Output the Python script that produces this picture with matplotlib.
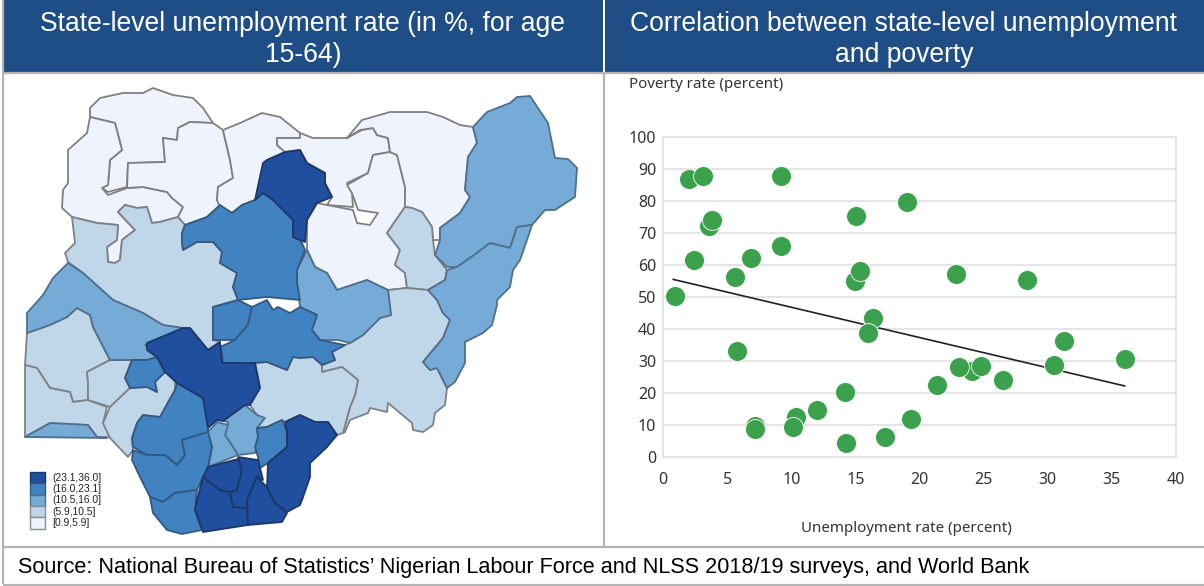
import matplotlib
matplotlib.use("Agg")
import matplotlib.pyplot as plt
from matplotlib.patches import Polygon, Rectangle

plt.rcParams['font.family'] = ['Liberation Sans', 'DejaVu Sans']

# ---- scatter data ----
unemployment = [0.9, 2.0, 3.15, 3.6, 3.8, 2.4, 5.6, 6.9, 9.2, 9.2, 15.05, 19.0, 15.0, 15.35, 16.4, 16.0, 5.8, 22.85,
                28.4, 31.3, 36.0, 30.5, 26.5, 24.1, 24.8, 23.1, 21.4, 19.3, 17.3, 14.3, 14.2, 12.0, 10.4, 10.1, 7.2, 7.2]
poverty = [50.3, 87.0, 87.7, 72.3, 74.0, 61.5, 56.3, 62.2, 87.8, 66.0, 75.3, 79.7, 55.0, 58.0, 43.4, 38.8, 33.0, 57.2,
           55.2, 36.2, 30.7, 28.8, 24.0, 27.0, 28.4, 28.0, 22.6, 12.0, 6.2, 4.5, 20.3, 14.8, 12.5, 9.4, 9.6, 8.6]
trend_x = [0.8, 36.0]
trend_y = [55.5, 22.2]
x_ticks = [0, 5, 10, 15, 20, 25, 30, 35, 40]
y_ticks = [0, 10, 20, 30, 40, 50, 60, 70, 80, 90, 100]

# ---- map data: state outlines in image coordinates, by class ----
legend_labels = ['(23.1,36.0]', '(16.0,23.1]', '(10.5,16.0]', '(5.9,10.5]', '[0.9,5.9]']
class_colors = ['#1f4f9e', '#4182c0', '#76abd8', '#c0d6e9', '#eff3fd']
class_edges = ['#1c3768', '#34587f', '#4f6f8c', '#7e8286', '#808080']

states = [
 ('Sokoto', 4, [(90,108),(100,98),(123,93),(143,93),(153,88),(173,95),(193,98),(203,108),(213,123),(190,122),(178,128),(177,140),(163,138),(165,162),(128,163),(127,187),(108,192),(102,188),(108,185),(110,160),(122,150),(115,123),(90,117)]),
 ('Kebbi', 4, [(90,117),(115,123),(122,150),(110,160),(108,185),(102,188),(108,195),(127,188),(143,187),(167,192),(172,198),(183,207),(178,217),(160,222),(152,223),(147,207),(137,208),(125,205),(118,212),(135,230),(122,240),(120,260),(115,263),(108,262),(107,247),(117,240),(118,225),(97,223),(72,217),(62,208),(63,190),(68,183),(68,150),(87,133)]),
 ('Zamfara', 4, [(128,163),(165,162),(163,138),(177,140),(178,128),(190,122),(213,123),(223,130),(230,160),(233,178),(218,187),(217,200),(220,205),(207,217),(185,225),(178,217),(183,207),(172,198),(167,192),(143,187),(127,188)]),
 ('Katsina', 4, [(223,130),(240,123),(262,113),(280,117),(300,133),(300,138),(277,138),(277,145),(285,152),(267,160),(263,193),(255,200),(242,205),(232,213),(220,207),(217,200),(218,187),(233,178),(230,160)]),
 ('Jigawa', 4, [(300,133),(313,138),(347,138),(362,130),(373,128),(377,135),(388,138),(390,152),(373,155),(368,173),(347,183),(352,193),(353,207),(327,205),(332,197),(325,183),(325,173),(307,163),(300,150),(285,152),(277,145),(277,138),(300,138)]),
 ('Bauchi', 4, [(327,205),(353,210),(357,223),(370,225),(378,213),(358,210),(352,193),(347,185),(368,173),(373,155),(390,152),(397,155),(405,187),(405,207),(387,233),(400,250),(395,265),(405,273),(407,288),(388,290),(367,280),(337,290),(327,273),(315,267),(307,250),(307,220),(317,203)]),
 ('Yobe', 4, [(347,138),(362,120),(390,112),(427,112),(443,117),(460,125),(473,127),(477,143),(468,157),(465,190),(470,197),(460,213),(440,228),(440,240),(433,240),(432,227),(422,212),(412,208),(405,207),(405,187),(397,155),(390,152),(388,138),(377,135),(373,128),(360,130)]),
 ('Gombe', 3, [(412,208),(422,212),(432,227),(433,240),(435,255),(447,270),(445,280),(428,290),(407,288),(405,273),(395,265),(400,250),(387,233),(405,207)]),
 ('Niger', 3, [(118,212),(125,205),(137,208),(147,207),(152,223),(160,222),(178,217),(185,225),(182,233),(182,243),(183,250),(197,242),(213,242),(222,252),(220,263),(237,273),(233,287),(238,300),(213,307),(213,340),(220,342),(208,350),(190,328),(183,328),(163,325),(143,313),(113,300),(83,273),(68,262),(65,253),(75,243),(72,217),(97,223),(118,225),(117,240),(107,247),(108,262),(115,263),(120,260),(122,240),(135,230)]),
 ('Oyo', 3, [(27,333),(50,325),(67,317),(77,308),(90,315),(93,327),(110,360),(87,372),(88,382),(88,400),(73,402),(70,392),(50,388),(37,368),(25,365)]),
 ('Ogun', 3, [(25,365),(37,368),(50,388),(70,392),(73,402),(88,400),(107,407),(103,423),(110,437),(97,437),(88,425),(50,423),(25,437)]),
 ('Osun', 3, [(110,360),(132,360),(125,378),(130,388),(110,407),(88,400),(88,382),(87,372)]),
 ('Ondo', 3, [(130,388),(147,387),(157,392),(155,382),(165,372),(175,377),(175,390),(160,417),(143,415),(137,423),(132,438),(133,450),(128,457),(110,438),(103,423),(110,407)]),
 ('Taraba', 3, [(388,290),(407,288),(428,290),(437,300),(443,313),(450,320),(443,338),(423,362),(430,370),(437,368),(447,388),(445,405),(435,413),(433,425),(423,432),(413,430),(412,423),(388,403),(387,412),(370,408),(368,413),(350,420),(345,432),(343,433),(350,407),(355,395),(358,380),(342,367),(322,372),(322,365),(335,360),(332,352),(345,345),(350,343),(363,335),(380,318),(391,315)]),
 ('Benue', 3, [(255,363),(267,362),(287,370),(293,357),(300,358),(313,357),(322,365),(322,372),(342,367),(358,380),(355,395),(350,407),(343,433),(337,435),(328,422),(315,422),(300,415),(285,422),(282,420),(267,427),(257,428),(257,415),(250,405),(260,388)]),
 ('Kwara', 2, [(68,263),(53,278),(43,295),(27,313),(27,333),(50,325),(67,317),(77,308),(90,315),(93,327),(110,360),(132,360),(147,360),(157,357),(145,345),(165,338),(183,328),(163,325),(143,313),(113,300),(83,273)]),
 ('Lagos', 2, [(25,437),(50,423),(88,425),(97,437),(107,438)]),
 ('Enugu', 2, [(245,405),(257,415),(265,418),(257,428),(258,437),(255,453),(238,455),(233,447),(225,435),(228,422),(223,421)]),
 ('Anambra', 2, [(217,422),(228,425),(225,435),(233,447),(238,455),(208,467),(212,447),(208,432)]),
 ('Plateau', 2, [(307,250),(315,267),(327,273),(337,290),(367,280),(388,290),(391,315),(380,318),(363,335),(350,343),(338,340),(320,340),(312,330),(317,315),(300,307),(297,283),(297,270)]),
 ('Borno', 2, [(473,127),(487,112),(510,103),(517,97),(530,96),(548,123),(555,158),(568,159),(577,168),(575,197),(555,210),(545,210),(532,225),(517,227),(510,248),(490,243),(477,253),(457,267),(447,267),(435,255),(440,240),(440,228),(460,213),(470,197),(465,190),(468,157),(477,143)]),
 ('Adamawa', 2, [(532,225),(517,227),(510,248),(490,243),(477,253),(457,267),(447,270),(445,280),(428,290),(437,300),(443,313),(450,320),(443,338),(423,362),(430,370),(437,368),(447,388),(455,382),(465,363),(465,342),(483,333),(492,325),(497,305),(497,300),(510,287),(513,270),(520,260),(527,240)]),
 ('Kaduna', 1, [(182,233),(185,225),(207,217),(220,205),(232,213),(242,205),(255,200),(263,193),(273,200),(293,220),(293,237),(300,240),(302,243),(305,250),(297,270),(297,283),(300,300),(267,297),(238,300),(233,287),(237,273),(220,263),(222,252),(213,242),(197,242),(183,250),(182,243)]),
 ('FCT', 1, [(213,307),(238,300),(252,307),(248,325),(235,340),(213,340)]),
 ('Nasarawa', 1, [(222,353),(220,347),(235,340),(248,325),(252,307),(267,300),(273,310),(278,307),(290,313),(300,307),(317,315),(312,330),(320,340),(345,345),(332,352),(335,360),(322,365),(313,357),(300,358),(293,357),(287,370),(267,362),(223,365)]),
 ('Ekiti', 1, [(132,360),(147,360),(157,357),(165,372),(155,382),(157,392),(147,387),(130,388),(125,378)]),
 ('Edo', 1, [(177,383),(203,398),(208,417),(208,432),(182,440),(185,455),(177,465),(165,455),(147,455),(133,447),(132,438),(137,423),(143,415),(160,417),(175,390)]),
 ('Delta', 1, [(133,450),(147,455),(165,455),(177,465),(185,455),(182,440),(208,432),(212,447),(208,467),(203,477),(197,490),(175,493),(163,502),(150,497),(140,477),(132,460)]),
 ('Bayelsa', 1, [(150,497),(163,502),(175,493),(197,490),(195,510),(202,530),(182,534),(167,530),(153,513)]),
 ('Ebonyi', 1, [(257,428),(267,427),(282,420),(287,432),(287,447),(268,463),(260,468),(258,457),(255,447),(258,437)]),
 ('Kano', 0, [(263,163),(267,160),(285,152),(300,150),(307,163),(325,173),(325,183),(332,197),(317,203),(307,220),(305,242),(300,240),(293,237),(293,220),(273,200),(263,193),(255,200)]),
 ('Kogi', 0, [(147,343),(183,328),(190,328),(208,350),(220,342),(222,363),(255,363),(260,388),(250,405),(245,405),(223,421),(217,420),(208,428),(203,398),(177,383),(165,372),(157,357),(147,350)]),
 ('Rivers', 0, [(197,500),(203,477),(220,490),(230,492),(233,507),(247,508),(248,525),(203,532),(195,510)]),
 ('Imo', 0, [(208,467),(238,459),(242,470),(237,490),(230,492),(220,490),(203,477)]),
 ('Abia', 0, [(238,457),(258,460),(263,480),(257,477),(247,500),(247,508),(233,507),(230,492),(237,490),(242,470)]),
 ('Akwa Ibom', 0, [(257,477),(267,487),(275,503),(287,513),(282,522),(248,525),(247,500)]),
 ('Cross River', 0, [(285,422),(300,415),(315,422),(328,422),(337,435),(327,447),(310,463),(310,477),(302,500),(300,505),(287,512),(275,503),(267,487),(268,463),(287,447),(287,432)]),
]

headers = ['State-level unemployment rate (in %, for age\n15-64)',
           'Correlation between state-level unemployment\nand poverty']
source = 'Source: National Bureau of Statistics\u2019 Nigerian Labour Force and NLSS 2018/19 surveys, and World Bank'

W, H = 1204, 586
fig = plt.figure(figsize=(W / 100, H / 100), dpi=100, facecolor='white')
bg = fig.add_axes([0, 0, 1, 1])
bg.set_xlim(0, W)
bg.set_ylim(H, 0)
bg.axis('off')

# table frame
blue = '#1f4e87'
frame = '#b4b4b4'
bg.add_patch(Rectangle((3, 0), 600, 72, fc=blue, ec='none'))
bg.add_patch(Rectangle((605, 0), 599, 72, fc=blue, ec='none'))
for xs, ys in [((3, 3), (0, 584)), ((603.5, 603.5), (72, 546)), ((3, 1204), (73, 73)),
               ((3, 1204), (546.5, 546.5)), ((3, 1204), (584.5, 584.5))]:
    bg.plot(xs, ys, color=frame, lw=1.6, solid_capstyle='butt')
bg.text(303, 39.5, headers[0], color='white', fontsize=19.1, ha='center', va='center', linespacing=1.25)
bg.text(904, 39.5, headers[1], color='white', fontsize=19.1, ha='center', va='center', linespacing=1.25)
t = bg.text(18, 568, source, color='black', fontsize=15.6, ha='left', va='center')

# map
for name, cls, pts in states:
    bg.add_patch(Polygon(pts, closed=True, fc=class_colors[cls], ec=class_edges[cls], lw=1.3, joinstyle='round', zorder=2 + (4 - cls) * 0.1))

# legend
for i, lab in enumerate(legend_labels):
    y0 = 472 + i * 11.3
    bg.add_patch(Rectangle((29.5, y0), 15, 11.3, fc=class_colors[i], ec=class_edges[i] if i < 3 else '#8a8f96', lw=1.0, zorder=3))
    bg.text(52, y0 + 5.8, lab, fontsize=7.4, ha='left', va='center', color='#222222', zorder=3)

# scatter
ax = fig.add_axes([663 / W, 1 - 457 / H, (1176 - 663) / W, (457 - 137) / H])
ax.set_xlim(0, 40)
ax.set_ylim(0, 100)
ax.set_facecolor('none')
ax.set_xticks(x_ticks)
ax.set_yticks(y_ticks)
ax.grid(axis='y', color='#e3e3e3', lw=1.3, zorder=0)
ax.set_axisbelow(True)
for s in ax.spines.values():
    s.set_color('#e3e3e3')
    s.set_linewidth(1.3)
ax.tick_params(axis='x', length=0, labelsize=11.5, labelcolor='#333333', pad=11)
ax.tick_params(axis='y', length=0, labelsize=11.5, labelcolor='#333333', pad=5)
for lab in ax.get_xticklabels() + ax.get_yticklabels():
    lab.set_family('Noto Sans')
ax.plot(trend_x, trend_y, color='#222222', lw=1.2, zorder=2, clip_on=False)
ax.scatter(unemployment, poverty, s=205, color='#3ba14c', edgecolors='white', linewidths=0.6, zorder=3, clip_on=False)

bg.text(629, 84, 'Poverty rate (percent)', family='Noto Sans', fontsize=10.85, color='#333333', ha='left', va='center')
bg.text(906, 528, 'Unemployment rate (percent)', family='Noto Sans', fontsize=10.85, color='#333333', ha='center', va='center')

fig.savefig('out.png', dpi=100, facecolor='white')
